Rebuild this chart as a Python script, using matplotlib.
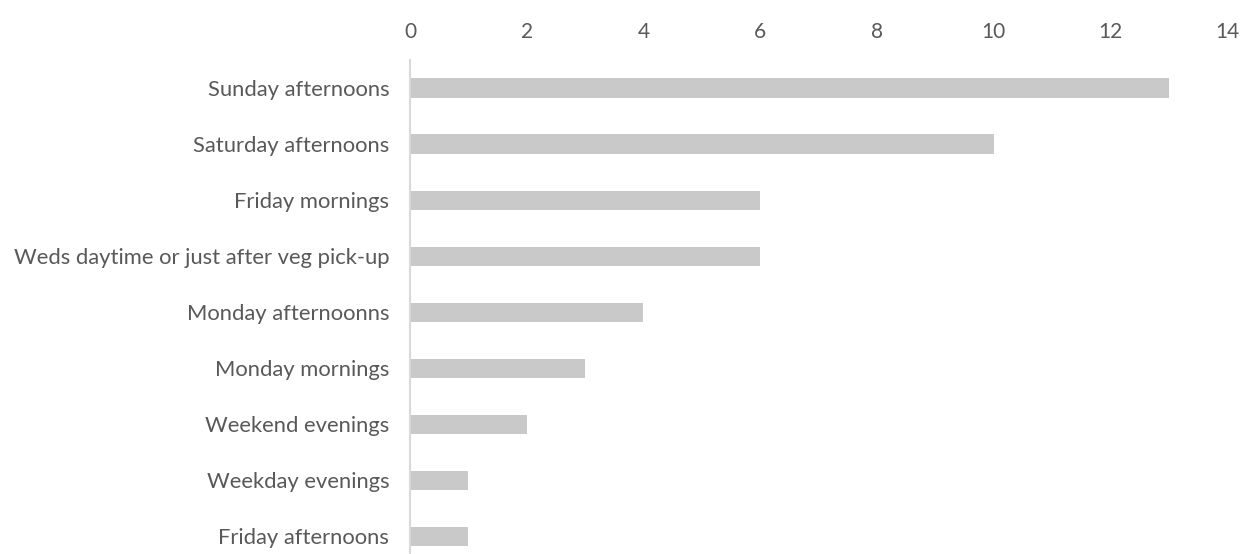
import matplotlib.pyplot as plt

# Données
categories = [
    "Sunday afternoons",
    "Saturday afternoons",
    "Friday mornings",
    "Weds daytime or just after veg pick-up",
    "Monday afternoonns",
    "Monday mornings",
    "Weekend evenings",
    "Weekday evenings",
    "Friday afternoons",
]
values = [13, 10, 6, 6, 4, 3, 2, 1, 1]
xticks = [0, 2, 4, 6, 8, 10, 12, 14]

plt.rcParams['font.family'] = ['Lato', 'DejaVu Sans']
text_color = '#595959'

fig = plt.figure(figsize=(12.44, 5.54), dpi=100)
ax = fig.add_axes([410 / 1244, 0, (1227 - 410) / 1244, 494 / 554])

pos = list(range(len(categories)))
ax.barh(pos, values, height=0.34, color='#C9C9C9')

ax.set_xlim(0, 14)
ax.set_ylim(8.32, -0.5)
ax.set_xticks(xticks)
ax.set_yticks(pos)
ax.set_yticklabels(categories)

ax.xaxis.tick_top()
ax.tick_params(axis='x', length=0, pad=13, labelsize=15, labelcolor=text_color)
ax.tick_params(axis='y', length=0, pad=15, labelsize=15.8, labelcolor=text_color)

for s in ['top', 'right', 'bottom']:
    ax.spines[s].set_visible(False)
ax.spines['left'].set_color('#D9D9D9')
ax.spines['left'].set_linewidth(1.5)

fig.savefig('out.png', dpi=100)
